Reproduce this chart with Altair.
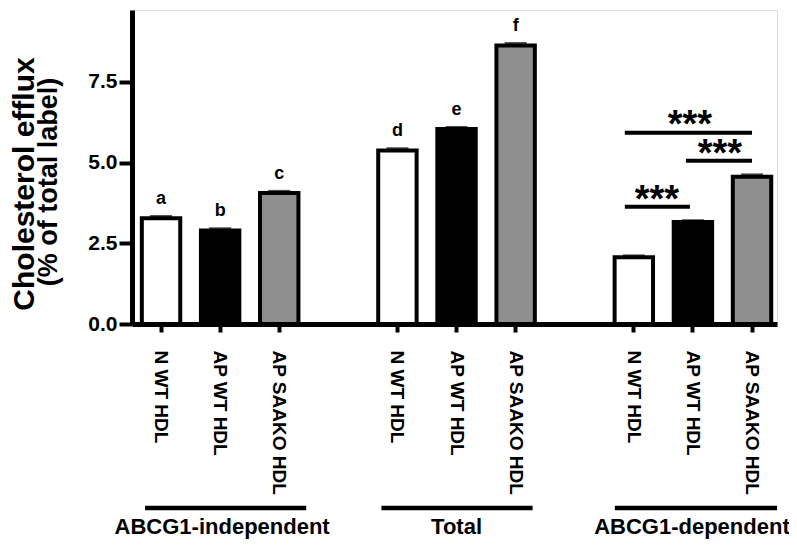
import altair as alt
import pandas as pd

# ---- data ----
categories = ["N WT HDL|1", "AP WT HDL|1", "AP SAAKO HDL|1", "gap|1",
              "N WT HDL|2", "AP WT HDL|2", "AP SAAKO HDL|2", "gap|2",
              "N WT HDL|3", "AP WT HDL|3", "AP SAAKO HDL|3"]
kinds = ["N", "AP", "SAAKO", "gap", "N", "AP", "SAAKO", "gap", "N", "AP", "SAAKO"]
values = [3.28, 2.90, 4.06, 0.0, 5.38, 6.04, 8.63, 0.0, 2.07, 3.16, 4.56]
errors = [0.05, 0.05, 0.05, 0.0, 0.05, 0.05, 0.06, 0.0, 0.04, 0.04, 0.06]
letters = ["a", "b", "c", "", "d", "e", "f", "", "", "", ""]

y_ticks = [0, 2.5, 5, 7.5]

group_labels = ["ABCG1-independent", "Total", "ABCG1-dependent"]
group_from = ["N WT HDL|1", "N WT HDL|2", "N WT HDL|3"]
group_to = ["AP SAAKO HDL|1", "AP SAAKO HDL|2", "AP SAAKO HDL|3"]
group_mid = ["AP WT HDL|1", "AP WT HDL|2", "AP WT HDL|3"]

sig_from = ["N WT HDL|3", "AP WT HDL|3", "N WT HDL|3"]
sig_to = ["AP WT HDL|3", "AP SAAKO HDL|3", "AP SAAKO HDL|3"]
sig_y = [3.63, 5.06, 5.93]
sig_text = ["***", "***", "***"]
sig_star_at = ["N WT HDL|3", "AP WT HDL|3", "AP WT HDL|3"]
sig_star_y = [3.46, 4.90, 5.78]

kind_domain = ["N", "AP", "SAAKO", "gap"]
kind_colors = ["white", "black", "#8f8f8f", "white"]

FONT = "Liberation Sans"

df = pd.DataFrame({
    "cat": categories,
    "kind": kinds,
    "value": values,
    "top": [v + e for v, e in zip(values, errors)],
    "letter": letters,
})

x_scale = alt.Scale(domain=categories, paddingInner=0.35, paddingOuter=0.132, align=0.63)
x_axis = alt.Axis(
    values=[c for c, k in zip(categories, kinds) if k != "gap"],
    labelExpr="split(datum.value, '|')[0]",
    labelAngle=90, labelAlign="left", labelBaseline="middle",
    labelFontSize=19, labelFontWeight="bold", labelFont=FONT, labelColor="black",
    labelPadding=18, tickSize=8, tickWidth=4, tickColor="black",
    domainColor="black", domainWidth=5, grid=False, title=None,
)
y_scale = alt.Scale(domain=[0, 9.73], nice=False, zero=True)
y_axis = alt.Axis(
    values=y_ticks, format=".1f",
    labelFontSize=21, labelFontWeight="bold", labelFont=FONT, labelColor="black",
    labelPadding=2, tickSize=13, tickWidth=4, tickColor="black",
    domainColor="black", domainWidth=5, grid=False, title=None,
)


def xenc(field):
    return alt.X(f"{field}:N", scale=x_scale, axis=x_axis, sort=None)


def yenc(field):
    return alt.Y(f"{field}:Q", scale=y_scale, axis=y_axis)


bars = alt.Chart(df).mark_bar(stroke="black", strokeWidth=4).encode(
    x=xenc("cat"),
    y=yenc("value"),
    fill=alt.Fill("kind:N", scale=alt.Scale(domain=kind_domain, range=kind_colors), legend=None),
)

caps = alt.Chart(df).transform_filter("datum.kind != 'gap'").mark_tick(
    color="black", thickness=3, size=22
).encode(x=xenc("cat"), y=yenc("top"))

letter_text = alt.Chart(df).transform_filter("datum.letter != ''").mark_text(
    dy=-14, fontSize=18, fontWeight="bold", font=FONT, color="black", baseline="alphabetic"
).encode(x=xenc("cat"), y=yenc("value"), text="letter:N")

layers = [bars, caps, letter_text]

# significance brackets
sig_offsets = [(-9, -3), (-7, 0), (-9, 0)]
star_dx = [23, 27, -3]
for i in range(3):
    d = pd.DataFrame({"from": [sig_from[i]], "to": [sig_to[i]], "y": [sig_y[i]],
                      "at": [sig_star_at[i]], "sy": [sig_star_y[i]], "t": [sig_text[i]]})
    layers.append(
        alt.Chart(d).mark_rule(color="black", strokeWidth=4,
                               xOffset=sig_offsets[i][0], x2Offset=sig_offsets[i][1]).encode(
            x=xenc("from"), x2="to:N", y=yenc("y"))
    )
    layers.append(
        alt.Chart(d).mark_text(fontSize=38, fontWeight="bold", font=FONT, color="black",
                               baseline="alphabetic", align="center", dx=star_dx[i]).encode(
            x=xenc("at"), y=yenc("sy"), text="t:N")
    )

# group lines and labels below the axis
grp_offsets = [(-16, 27), (-16, 17), (-19, 25)]
grp_dx = [2, 0, -1]
for i in range(3):
    d = pd.DataFrame({"from": [group_from[i]], "to": [group_to[i]],
                      "mid": [group_mid[i]], "label": [group_labels[i]]})
    layers.append(
        alt.Chart(d).mark_rule(color="black", strokeWidth=4.5,
                               xOffset=grp_offsets[i][0], x2Offset=grp_offsets[i][1]).encode(
            x=xenc("from"), x2="to:N", y=alt.value(498))
    )
    layers.append(
        alt.Chart(d).mark_text(fontSize=22, fontWeight="bold", font=FONT, color="black",
                               baseline="alphabetic", align="center", dx=grp_dx[i]).encode(
            x=xenc("mid"), y=alt.value(524), text="label:N")
    )

# y-axis title (two lines of different sizes)
title_df1 = pd.DataFrame({"t": ["Cholesterol efflux"]})
title_df2 = pd.DataFrame({"t": ["(% of total label)"]})
layers.append(
    alt.Chart(title_df1).mark_text(angle=270, fontSize=30, fontWeight="bold", font=FONT,
                                   color="black", align="center", baseline="middle").encode(
        x=alt.value(-107), y=alt.value(174), text="t:N")
)
layers.append(
    alt.Chart(title_df2).mark_text(angle=270, fontSize=27, fontWeight="bold", font=FONT,
                                   color="black", align="center", baseline="middle").encode(
        x=alt.value(-83), y=alt.value(172), text="t:N")
)

chart = alt.layer(*layers).properties(
    width=645, height=314,
    autosize=alt.AutoSizeParams(type="none"),
    padding={"left": 124, "top": 2, "right": 12, "bottom": 215},
    background="white",
).configure_view(stroke="black", strokeWidth=5).configure(font=FONT)

chart.save("out.html", embed_options={"renderer": "svg", "actions": False})
